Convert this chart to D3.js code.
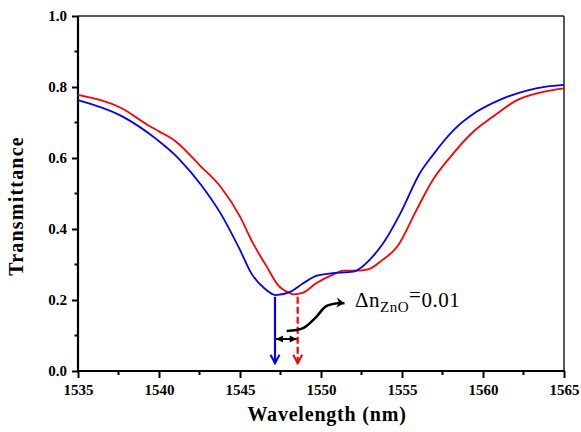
<!DOCTYPE html>
<html><head><meta charset="utf-8">
<script src="https://cdn.jsdelivr.net/npm/d3@7"></script>
<style>
html,body{margin:0;padding:0;background:#fff;}
svg{display:block;}
</style></head>
<body>
<svg id="chart" width="581" height="432"></svg>
<script>
// ---- data ----
const blueWl = [1535,1537.7,1539.9,1541.0,1541.3,1542.6,1543.8,1545.0,1545.7,1546.5,1547.2,1548.1,1548.9,1549.7,1550.6,1552.0,1552.4,1553.0,1553.9,1554.9,1556.1,1556.9,1558.2,1559.6,1561.0,1562.7,1563.9,1565];
const blueT  = [0.763,0.718,0.651,0.608,0.594,0.524,0.444,0.341,0.275,0.233,0.214,0.223,0.247,0.268,0.275,0.280,0.289,0.313,0.364,0.444,0.557,0.608,0.679,0.730,0.763,0.790,0.801,0.806];
const redWl  = [1535,1537.7,1539.3,1540.0,1541.0,1541.6,1542.5,1543.8,1545.0,1545.8,1546.65,1547.35,1548.1,1548.3,1548.9,1549.7,1550.8,1551.4,1552.4,1552.9,1553.8,1554.7,1555.9,1556.9,1558.0,1559.4,1560.6,1562.1,1563.5,1565];
const redT   = [0.778,0.740,0.693,0.675,0.648,0.623,0.580,0.519,0.435,0.360,0.294,0.242,0.219,0.216,0.221,0.247,0.273,0.283,0.283,0.286,0.313,0.350,0.454,0.538,0.604,0.674,0.716,0.763,0.784,0.796];

const xTicks = [1535,1540,1545,1550,1555,1560,1565];
const xMinor = [1537.5,1542.5,1547.5,1552.5,1557.5,1562.5];
const yTicks = [0.0,0.2,0.4,0.6,0.8,1.0];
const yMinor = [0.1,0.3,0.5,0.7,0.9];

// annotation values (data units)
const blueShift = 1547.16, redShift = 1548.56;
const arrowTop = 0.209, arrowBottom = 0.022;
const deltaY = 0.090;
const curveArrow = [[1547.88,0.113],[1548.9,0.121],[1549.7,0.152],[1550.3,0.182],[1551.0,0.191],[1551.45,0.191]];
const labelPos = [1552.1, 0.180];

// ---- layout ----
const svg = d3.select("#chart");
const L = 78, R = 564, T = 16, B = 371;
const x = d3.scaleLinear().domain([1535,1565]).range([L,R]);
const y = d3.scaleLinear().domain([0,1]).range([B,T]);
const serif = "Liberation Serif, Tinos, Times New Roman, serif";

// defs: markers
const defs = svg.append("defs");
function chevron(id, color){
  defs.append("marker").attr("id",id).attr("viewBox","-10 -6 12 12")
    .attr("refX",0).attr("refY",0).attr("markerWidth",12).attr("markerHeight",12)
    .attr("markerUnits","userSpaceOnUse").attr("orient","auto")
    .append("path").attr("d","M-8.5,-4.5 L0,0 L-8.5,4.5").attr("fill","none")
    .attr("stroke",color).attr("stroke-width",2);
}
chevron("chevBlue","#0000ff");
chevron("chevRed","#ff0000");
defs.append("marker").attr("id","triBlack").attr("viewBox","-8 -5 9 10")
  .attr("refX",0).attr("refY",0).attr("markerWidth",9).attr("markerHeight",10)
  .attr("markerUnits","userSpaceOnUse").attr("orient","auto-start-reverse")
  .append("path").attr("d","M-7,-3.5 L0,0 L-7,3.5 Z").attr("fill","#000");
defs.append("marker").attr("id","bigTri").attr("viewBox","-10 -6 12 12")
  .attr("refX",0).attr("refY",0).attr("markerWidth",12).attr("markerHeight",12)
  .attr("markerUnits","userSpaceOnUse").attr("orient","auto")
  .append("path").attr("d","M-8,-5 L0,0 L-8,5 L-5.5,0 Z").attr("fill","#000");

// frame top/right
svg.append("line").attr("x1",L).attr("x2",R).attr("y1",T).attr("y2",T).attr("stroke","#222").attr("stroke-width",1.5);
svg.append("line").attr("x1",R).attr("x2",R).attr("y1",T).attr("y2",B).attr("stroke","#222").attr("stroke-width",1.5);

// x axis
const gx = svg.append("g").attr("transform",`translate(0,${B})`)
  .call(d3.axisBottom(x).tickValues(xTicks).tickSize(7).tickPadding(6).tickFormat(d3.format("d")));
gx.append("g").selectAll("line").data(xMinor).join("line")
  .attr("x1",d=>x(d)).attr("x2",d=>x(d)).attr("y1",0).attr("y2",4).attr("stroke","#000").attr("stroke-width",2);
// y axis
const gy = svg.append("g").attr("transform",`translate(${L},0)`)
  .call(d3.axisLeft(y).tickValues(yTicks).tickSize(6).tickPadding(5).tickFormat(d3.format(".1f")));
gy.append("g").selectAll("line").data(yMinor).join("line")
  .attr("x1",0).attr("x2",-3.5).attr("y1",d=>y(d)).attr("y2",d=>y(d)).attr("stroke","#000").attr("stroke-width",2);

[gx,gy].forEach(g=>{
  g.attr("font-family",null).attr("font-size",null);
  g.select(".domain").attr("stroke","#000").attr("stroke-width",2.2).attr("d", g===gx ? `M${L-1},0H${R+0.5}` : `M0,${T}V${B+1}`);
  g.selectAll(".tick line").attr("stroke","#000").attr("stroke-width",2);
  g.selectAll("text").style("font-family",serif).style("font-weight","bold")
    .style("font-size","15px").attr("fill","#000");
});

// curves
const line = d3.line().x(d=>x(d[0])).y(d=>y(d[1])).curve(d3.curveMonotoneX);
svg.append("path").datum(redWl.map((w,i)=>[w,redT[i]])).attr("d",line)
  .attr("fill","none").attr("stroke","#ff0000").attr("stroke-width",1.8);
svg.append("path").datum(blueWl.map((w,i)=>[w,blueT[i]])).attr("d",line)
  .attr("fill","none").attr("stroke","#0000ff").attr("stroke-width",1.8);

// vertical arrows
svg.append("line").attr("x1",x(blueShift)).attr("x2",x(blueShift)).attr("y1",y(arrowTop)).attr("y2",y(arrowBottom))
  .attr("stroke","#0000ff").attr("stroke-width",2.2).attr("marker-end","url(#chevBlue)");
svg.append("line").attr("x1",x(redShift)).attr("x2",x(redShift)).attr("y1",y(arrowTop)).attr("y2",y(arrowBottom))
  .attr("stroke","#ff0000").attr("stroke-width",2.2).attr("stroke-dasharray","7,3").attr("marker-end","url(#chevRed)");

// double arrow
svg.append("line").attr("x1",x(blueShift)+1).attr("x2",x(redShift)-1).attr("y1",y(deltaY)).attr("y2",y(deltaY))
  .attr("stroke","#000").attr("stroke-width",2).attr("marker-start","url(#triBlack)").attr("marker-end","url(#triBlack)");

// curved arrow
svg.append("path").datum(curveArrow).attr("d",d3.line().x(d=>x(d[0])).y(d=>y(d[1])).curve(d3.curveCatmullRom))
  .attr("fill","none").attr("stroke","#000").attr("stroke-width",2.5).attr("marker-end","url(#bigTri)");

// label
const lbl = svg.append("text").attr("x",x(labelPos[0])).attr("y",y(labelPos[1]))
  .style("font-family",serif).style("font-size","21px").attr("letter-spacing","0.5px").attr("fill","#000");
lbl.append("tspan").text("Δn");
lbl.append("tspan").attr("dy",5).style("font-size","15px").text("ZnO");
lbl.append("tspan").attr("dy",-10).text("=");
lbl.append("tspan").attr("dy",5).text("0.01");

// axis titles
svg.append("text").attr("x",(L+R)/2+6).attr("y",421).attr("text-anchor","middle")
  .style("font-family",serif).style("font-weight","bold").style("font-size","20px").attr("letter-spacing","0.8px")
  .text("Wavelength (nm)");
svg.append("text").attr("transform","translate(23,206) rotate(-90)").attr("text-anchor","middle")
  .style("font-family",serif).style("font-weight","bold").style("font-size","20px").attr("letter-spacing","1.2px")
  .text("Transmittance");
</script>
</body></html>
